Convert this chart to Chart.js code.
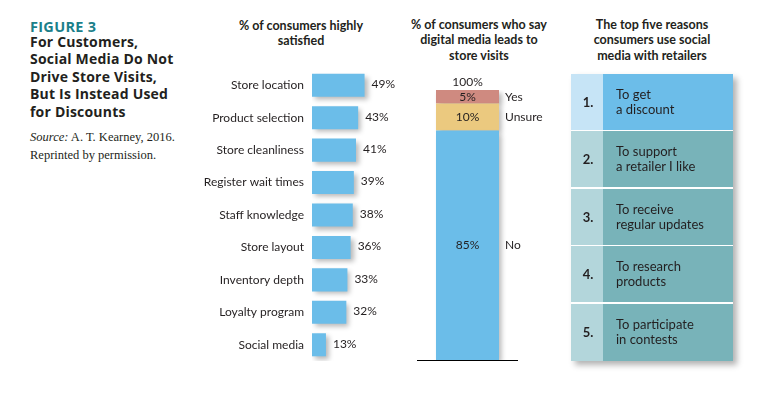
<!DOCTYPE html>
<html><head><meta charset="utf-8">
<script src="https://cdn.jsdelivr.net/npm/chart.js@4"></script>
<style>
html,body{margin:0;padding:0;background:#fff;width:763px;height:393px;overflow:hidden;font-family:Lato,sans-serif;color:#231f20}
.abs{position:absolute}
.fig{left:30px;top:17px;font:bold 14.5px "Open Sans",sans-serif;color:#1b7f8a;letter-spacing:0.3px}
.ttl{left:30px;top:33px;font:bold 14px "Open Sans",sans-serif;line-height:17.4px;color:#231f20;letter-spacing:0.2px}
.src{left:30px;top:129px;font:12.5px "Liberation Serif",serif;line-height:17.5px;color:#231f20}
.hdr{font:bold 12.5px Lato,sans-serif;line-height:15.3px;text-align:center;color:#231f20;white-space:nowrap}
#tbl{left:571px;top:74px;width:162px;height:287px;box-shadow:4px 4px 6px rgba(0,0,0,0.3);background:#fff}
.row{position:absolute;left:0;width:162px;display:flex}
.num{width:32px;display:flex;align-items:center;justify-content:center;font:bold 13px Lato,sans-serif;padding-left:2px;box-sizing:border-box}
.txt{flex:1;display:flex;align-items:center;padding-left:13px;font:13px Lato,sans-serif;line-height:15px}
</style></head><body>
<div class="abs fig">FIGURE 3</div>
<div class="abs ttl">For Customers,<br>Social Media Do Not<br>Drive Store Visits,<br>But Is Instead Used<br>for Discounts</div>
<div class="abs src"><i>Source:</i> A. T. Kearney, 2016.<br>Reprinted by permission.</div>
<div class="abs hdr" style="left:201px;top:18px;width:200px">% of consumers highly<br>satisfied</div>
<div class="abs hdr" style="left:379px;top:17px;width:200px">% of consumers who say<br>digital media leads to<br>store visits</div>
<div class="abs hdr" style="left:552px;top:17px;width:200px">The top five reasons<br>consumers use social<br>media with retailers</div>
<canvas id="c1" class="abs" style="left:190px;top:69px" width="210" height="292"></canvas>
<canvas id="c2" class="abs" style="left:417px;top:70px" width="150" height="295"></canvas>
<div id="tbl" class="abs"></div>
<script>
// ---- data ----
const satisfactionLabels = ['Store location','Product selection','Store cleanliness','Register wait times','Staff knowledge','Store layout','Inventory depth','Loyalty program','Social media'];
const satisfactionValues = [49,43,41,39,38,36,33,32,13];
const visitLabels = ['No','Unsure','Yes'];
const visitValues = [85,10,5];
const visitColors = ['#6bbde9','#ebc97f','#cf8a80'];
const reasonRanks = ['1.','2.','3.','4.','5.'];
const reasonTexts = [['To get','a discount'],['To support','a retailer I like'],['To receive','regular updates'],['To research','products'],['To participate','in contests']];

// ---- table ----
const tbl = document.getElementById('tbl');
const rowH = 287/5;
reasonRanks.forEach((r,i)=>{
  const row = document.createElement('div');
  row.className='row';
  row.style.top=(i*rowH)+'px';
  row.style.height=(rowH-(i<4?1.5:0))+'px';
  const n=document.createElement('div');n.className='num';n.textContent=r;
  n.style.background = i===0?'#c6e4f6':'#b3d6db';
  const t=document.createElement('div');t.className='txt';t.innerHTML=reasonTexts[i].join('<br>');
  t.style.background = i===0?'#6cbde9':'#78b3b9';
  row.appendChild(n);row.appendChild(t);tbl.appendChild(row);
});

const shadowPlugin = {
  id:'shadow',
  beforeDatasetsDraw(c){const x=c.ctx;x.save();x.shadowColor='rgba(0,0,0,0.28)';x.shadowBlur=5;x.shadowOffsetX=3;x.shadowOffsetY=3;},
  afterDatasetsDraw(c){c.ctx.restore();}
};
const txtColor='#231f20';

// ---- chart 1 ----
new Chart(document.getElementById('c1'),{
  type:'bar',
  data:{labels:satisfactionLabels,datasets:[{data:satisfactionValues,backgroundColor:'#6bbde9',borderWidth:0,barPercentage:0.71,categoryPercentage:1}]},
  options:{indexAxis:'y',responsive:false,animation:false,devicePixelRatio:1,layout:{padding:0,autoPadding:false},
    plugins:{legend:{display:false},tooltip:{enabled:false}},
    scales:{
      x:{display:false,min:0,max:82},
      y:{afterFit:s=>{s.width=122;s.paddingTop=0;s.paddingBottom=0;},grid:{display:false,drawTicks:false},border:{display:false},
         ticks:{padding:8,color:txtColor,font:{family:'Lato',size:12}}}
    }},
  plugins:[shadowPlugin,{id:'vals',afterDatasetsDraw(c){
    const ctx=c.ctx;ctx.save();ctx.fillStyle=txtColor;ctx.font='12px Lato';ctx.textBaseline='middle';ctx.textAlign='left';
    c.getDatasetMeta(0).data.forEach((b,i)=>{ctx.fillText(satisfactionValues[i]+'%',b.x+7,b.y-1);});
    ctx.restore();}}]
});

// ---- chart 2 ----
new Chart(document.getElementById('c2'),{
  type:'bar',
  data:{labels:[''],datasets:visitLabels.map((l,i)=>({label:l,data:[visitValues[i]],backgroundColor:visitColors[i],borderWidth:0,barPercentage:0.624,categoryPercentage:1}))},
  options:{responsive:false,animation:false,devicePixelRatio:1,layout:{padding:{top:20,right:49,bottom:5,left:0},autoPadding:false},
    plugins:{legend:{display:false},tooltip:{enabled:false}},
    scales:{x:{display:false,stacked:true},y:{display:false,stacked:true,min:0,max:100}}},
  plugins:[shadowPlugin,{id:'lbl',afterDatasetsDraw(c){
    const ctx=c.ctx;ctx.save();ctx.fillStyle=txtColor;ctx.font='12px Lato';ctx.textBaseline='middle';
    let topY=Infinity,cx=0;
    visitLabels.forEach((l,i)=>{
      const b=c.getDatasetMeta(i).data[0];
      const my=(b.y+b.base)/2;
      ctx.textAlign='center';ctx.fillText(visitValues[i]+'%',b.x,my);
      ctx.textAlign='left';ctx.fillText(l,b.x+b.width/2+6,my);
      topY=Math.min(topY,b.y);cx=b.x;
    });
    ctx.textAlign='center';ctx.fillText(visitValues.reduce((a,v)=>a+v,0)+'%',cx,topY-8);
    const y0=c.scales.y.getPixelForValue(0);
    ctx.strokeStyle='#000';ctx.lineWidth=1.2;ctx.beginPath();ctx.moveTo(c.chartArea.left,y0+0.5);ctx.lineTo(c.chartArea.right,y0+0.5);ctx.stroke();
    ctx.restore();}}]
});
</script>
</body></html>
